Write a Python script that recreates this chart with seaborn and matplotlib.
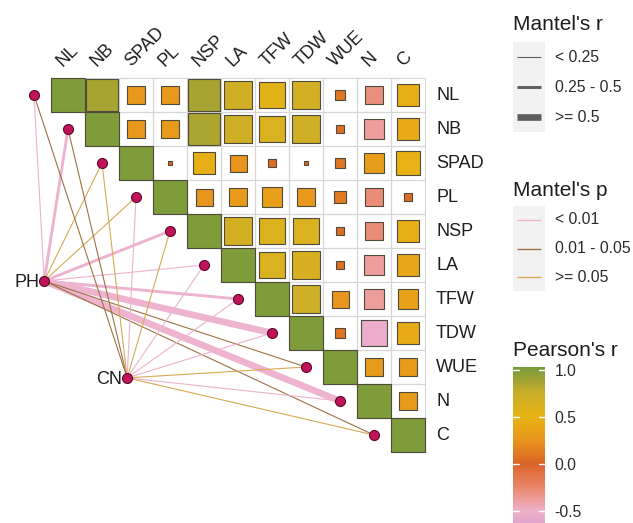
import numpy as np
import pandas as pd
import matplotlib
matplotlib.use("Agg")
import matplotlib.pyplot as plt
import seaborn as sns
from matplotlib.colors import LinearSegmentedColormap, Normalize, ListedColormap
from matplotlib.patches import Rectangle
from matplotlib.colorbar import ColorbarBase

# ---------------- data ----------------
traits = ["NL", "NB", "SPAD", "PL", "NSP", "LA", "TFW", "TDW", "WUE", "N", "C"]

# Pearson's r, upper triangle: each list holds the columns right of the diagonal
r_NL = [0.87, 0.28, 0.28, 0.87, 0.70, 0.55, 0.68, 0.10, -0.30, 0.45]
r_NB = [0.28, 0.30, 0.85, 0.72, 0.62, 0.72, 0.05, -0.38, 0.42]
r_SPAD = [0.02, 0.45, 0.25, 0.05, 0.01, 0.09, 0.32, 0.48]
r_PL = [0.25, 0.30, 0.33, 0.28, 0.12, -0.28, 0.05]
r_NSP = [0.68, 0.60, 0.62, 0.05, -0.28, 0.45]
r_LA = [0.62, 0.66, 0.06, -0.38, 0.40]
r_TFW = [0.72, 0.25, -0.38, 0.35]
r_TDW = [0.08, -0.55, 0.42]
r_WUE = [0.30, 0.30]
r_N = [0.30]
upper_rows = [r_NL, r_NB, r_SPAD, r_PL, r_NSP, r_LA, r_TFW, r_TDW, r_WUE, r_N, []]

# Mantel test of each environmental factor against each trait
env_names = ["PH", "CN"]
mantel_r_PH = [0.15, 0.35, 0.12, 0.10, 0.38, 0.20, 0.40, 0.62, 0.15, 0.64, 0.10]
mantel_p_PH = [0.004, 0.003, 0.12, 0.20, 0.002, 0.008, 0.001, 0.001, 0.03, 0.001, 0.04]
mantel_r_CN = [0.10, 0.10, 0.05, 0.08, 0.10, 0.18, 0.20, 0.15, 0.05, 0.12, 0.06]
mantel_p_CN = [0.03, 0.02, 0.40, 0.006, 0.20, 0.008, 0.006, 0.009, 0.50, 0.007, 0.30]

r_bins = ["< 0.25", "0.25 - 0.5", ">= 0.5"]
p_bins = ["< 0.01", "0.01 - 0.05", ">= 0.05"]
cbar_ticks = [-0.5, 0.0, 0.5, 1.0]

# ---------------- styling ----------------
sns.set_theme(style="white")
plt.rcParams["font.family"] = ["Liberation Sans", "DejaVu Sans"]

n = len(traits)
corr = np.eye(n)
for i, row in enumerate(upper_rows):
    for k, v in enumerate(row):
        corr[i, i + 1 + k] = v
        corr[i + 1 + k, i] = v

vmin, vmax = -0.63, 1.03
stops = [(-0.63, "#E3A5CB"), (-0.5, "#EFB1C8"), (-0.25, "#E9866B"), (0.0, "#DA6427"),
         (0.25, "#E8941D"), (0.5, "#E8B414"), (0.75, "#CBAE28"), (0.88, "#A5A333"),
         (1.03, "#779A3C")]
pearson_cmap = LinearSegmentedColormap.from_list(
    "pearson", [((v - vmin) / (vmax - vmin), c) for v, c in stops])
norm = Normalize(vmin=vmin, vmax=vmax)

p_colors = ["#EDB3CF", "#9C7244", "#D8AA55"]
r_widths = [0.8, 2.1, 4.8]

# pixel geometry of the figure: cell size and grid origin
W, H = 633, 523
cell, gx0, gy0 = 34.0, 51.0, 78.0

fig = plt.figure(figsize=(W / 100, H / 100), dpi=100)
ax = fig.add_axes([0, 0, 1, 1])

# white base of the upper triangle
mask = np.tril(np.ones((n, n), dtype=bool), k=-1)
sns.heatmap(pd.DataFrame(np.zeros((n, n)), index=traits, columns=traits), mask=mask,
            cmap=ListedColormap(["white"]), cbar=False, linewidths=0,
            xticklabels=False, yticklabels=False, ax=ax)
ax.set_xlim(-gx0 / cell, (W - gx0) / cell)
ax.set_ylim((H - gy0) / cell, -gy0 / cell)
ax.axis("off")

# light grid around every cell of the upper triangle
for i in range(n):
    for j in range(i, n):
        ax.add_patch(Rectangle((j, i), 1, 1, facecolor="none", edgecolor="#D6D6D6",
                               linewidth=0.8, zorder=1))

# squares sized by |r| (area) and coloured by r
for i in range(n):
    for j in range(i, n):
        r = corr[i, j]
        side = 1.0 if i == j else np.sqrt(abs(r))
        ax.add_patch(Rectangle((j + 0.5 - side / 2, i + 0.5 - side / 2), side, side,
                               facecolor=pearson_cmap(norm(r)), edgecolor="#4E4A3E",
                               linewidth=0.8, zorder=3))

# trait labels
for j, t in enumerate(traits):
    ax.text(j + 0.5 - 5 / cell, -11 / cell, t, rotation=45, rotation_mode="anchor",
            ha="left", va="baseline", fontsize=13, color="#1e1e1e")
for i, t in enumerate(traits):
    ax.text(n + 11 / cell, i + 0.5, t, ha="left", va="center", fontsize=13, color="#1e1e1e")

# Mantel links
env_pos = {"PH": (-0.2, 5.97), "CN": (2.24, 8.82)}
node_x = [i - 0.5 for i in range(n)]
node_y = [i + 0.5 for i in range(n)]

def r_class(v):
    return 0 if v < 0.25 else (1 if v < 0.5 else 2)

def p_class(v):
    return 0 if v < 0.01 else (1 if v < 0.05 else 2)

links = []
for e, rs, ps in [("PH", mantel_r_PH, mantel_p_PH), ("CN", mantel_r_CN, mantel_p_CN)]:
    for k in range(n):
        links.append((e, k, r_class(rs[k]), p_class(ps[k])))
links.sort(key=lambda l: -l[2])
for e, k, rc, pc in links:
    ex, ey = env_pos[e]
    ax.plot([ex, node_x[k]], [ey, node_y[k]], color=p_colors[pc], lw=r_widths[rc],
            solid_capstyle="butt", zorder=2)

nodes = pd.DataFrame({"x": node_x + [env_pos[e][0] for e in env_names],
                      "y": node_y + [env_pos[e][1] for e in env_names]})
sns.scatterplot(data=nodes, x="x", y="y", s=52, color="#C0135A", edgecolor="#5A0A2A",
                linewidth=0.8, zorder=6, legend=False, ax=ax)
ax.set_xlim(-gx0 / cell, (W - gx0) / cell)
ax.set_ylim((H - gy0) / cell, -gy0 / cell)
ax.axis("off")
for e in env_names:
    ex, ey = env_pos[e]
    ax.text(ex - 5 / cell, ey + 0.05, e, ha="right", va="center", fontsize=13, color="#1e1e1e")

# ---------------- legends ----------------
lax = fig.add_axes([0, 0, 1, 1])
lax.set_xlim(0, W)
lax.set_ylim(H, 0)
lax.axis("off")
lax.patch.set_alpha(0)

lx0, lx1, tx = 513, 545, 555
lax.text(lx0, 25, "Mantel's r", ha="left", va="center", fontsize=15, color="#1e1e1e")
for k, lab in enumerate(r_bins):
    yc = 57 + 30 * k
    lax.add_patch(Rectangle((lx0, yc - 15), lx1 - lx0, 30, facecolor="#F2F2F2", edgecolor="none"))
    lax.plot([517, 541], [yc, yc], color="#5E5E5E", lw=r_widths[k], solid_capstyle="butt")
    lax.text(tx, yc, lab, ha="left", va="center", fontsize=11.3, color="#2b2b2b")

lax.text(lx0, 190, "Mantel's p", ha="left", va="center", fontsize=15, color="#1e1e1e")
for k, lab in enumerate(p_bins):
    yc = 220 + 28.5 * k
    lax.add_patch(Rectangle((lx0, yc - 14.25), lx1 - lx0, 28.5, facecolor="#F2F2F2", edgecolor="none"))
    lax.plot([517, 541], [yc, yc], color=p_colors[k], lw=1.0, solid_capstyle="butt")
    lax.text(tx, yc, lab, ha="left", va="center", fontsize=11.3, color="#2b2b2b")

lax.text(lx0, 350, "Pearson's r", ha="left", va="center", fontsize=15, color="#1e1e1e")

# colour bar: 94 px per unit of r, top at y = 367 px
cb_top = 367
cb_bot = cb_top + 94 * (vmax - vmin)
cax = fig.add_axes([lx0 / W, 1 - cb_bot / H, (lx1 - lx0) / W, (cb_bot - cb_top) / H])
cb = ColorbarBase(cax, cmap=pearson_cmap, norm=norm, orientation="vertical")
cb.outline.set_visible(False)
cb.set_ticks(cbar_ticks)
cb.set_ticklabels([f"{t:.1f}" for t in cbar_ticks])
cax.tick_params(axis="y", length=0, pad=7, labelsize=11.3, labelcolor="#2b2b2b")
for t in cbar_ticks:
    cax.plot([0, 0.2], [t, t], color="white", lw=1.0)
    cax.plot([0.8, 1.0], [t, t], color="white", lw=1.0)
cax.set_xlim(0, 1)

fig.savefig("out.png", dpi=100, facecolor="white")
